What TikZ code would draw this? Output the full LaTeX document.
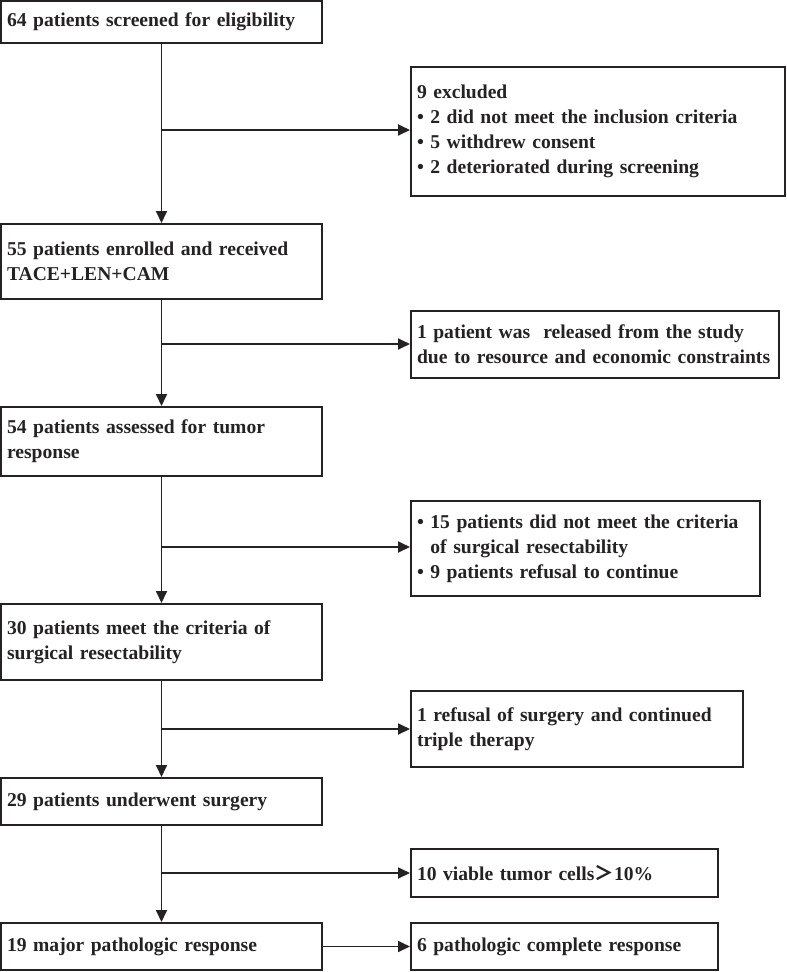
\documentclass[tikz,border=0pt]{standalone}
\usepackage{fontspec}
\setmainfont{Liberation Serif}
\newfontfamily\cjk{Noto Sans CJK SC}
\usetikzlibrary{arrows.meta}
\definecolor{flowline}{RGB}{38,34,35}

\begin{document}
\begin{tikzpicture}[
                x=1pt,y=-1pt,
                line width=2pt,
                box/.style={draw=flowline,text=flowline,align=left,inner xsep=6pt,inner ysep=0pt,
                            font=\bfseries\fontsize{19.6}{24.8}\selectfont},
                leftbox/.style={box,text width=309pt},
                arr/.style={draw=flowline,line width=1.8pt,-{Triangle[length=12pt,width=11pt]}}
                ]

\useasboundingbox (0,0) rectangle (787,972);

                    % 1
                    \node[leftbox,minimum height=42pt] (SCREEN) at (161.5,22) {64 patients screened for eligibility};
                    \node[box,text width=362pt,minimum height=129pt] (EXCL) at (598,131.5)
                        {9 excluded\\• 2 did not meet the inclusion criteria\\• 5 withdrew consent\\• 2 deteriorated during screening};

                    % 2
                    \node[leftbox,minimum height=75pt] (ENROL) at (161.5,261.5) {55 patients enrolled and received\\TACE+LEN+CAM};
                    \node[box,text width=356pt,minimum height=67pt] (RELEASE) at (595,344.5)
                        {1 patient was\ \ released from the study\\due to resource and economic constraints};

                    % 3
                    \node[leftbox,minimum height=69pt] (ASSESS) at (161.5,441.5) {54 patients assessed for tumor\\response};
                    \node[box,text width=337pt,minimum height=95pt] (NOTRES) at (585.5,548.5)
                        {• 15 patients did not meet the criteria\\\phantom{•\ }of surgical resectability\\• 9 patients refusal to continue};

                    % 4
                    \node[leftbox,minimum height=76pt] (RESECT) at (161.5,642) {30 patients meet the criteria of\\surgical resectability};
                    \node[box,text width=320pt,minimum height=76pt] (REFUSE) at (577,729)
                        {1 refusal of surgery and continued\\triple therapy};

                    % 5
                    \node[leftbox,minimum height=47pt] (SURG) at (161.5,801.5) {29 patients underwent surgery};
                    \node[box,text width=295pt,minimum height=48pt] (VIABLE) at (564.5,873)
                        {10 viable tumor cells{\cjk ＞}10\%};

                    % 6
                    \node[leftbox,minimum height=47pt] (MPR) at (161.5,946.5) {19 major pathologic response};
                    \node[box,text width=295pt,minimum height=47pt] (PCR) at (564.5,946.5)
                        {6 pathologic complete response};

%%%%%%%%%%%%%%%%%%%%%%%%%%%%%%%%%%%%%%%%%%%%%%%%%%%%%%%%%%%%%%%%%%%%%%%%%%%%%%%%%%%%

% branch points
\coordinate (J1) at (161.5,130);
\coordinate (J2) at (161.5,344);
\coordinate (J3) at (161.5,547);
\coordinate (J4) at (161.5,729);
\coordinate (J5) at (161.5,873);

\draw [arr] (SCREEN) -- (ENROL);
\draw [arr] (ENROL)  -- (ASSESS);
\draw [arr] (ASSESS) -- (RESECT);
\draw [arr] (RESECT) -- (SURG);
\draw [arr] (SURG)   -- (MPR);

\draw [arr] (J1) -- (J1 -| EXCL.west);
\draw [arr] (J2) -- (J2 -| RELEASE.west);
\draw [arr] (J3) -- (J3 -| NOTRES.west);
\draw [arr] (J4) -- (J4 -| REFUSE.west);
\draw [arr] (J5) -- (J5 -| VIABLE.west);
\draw [arr] (MPR) -- (PCR);

\end{tikzpicture}
\end{document}
